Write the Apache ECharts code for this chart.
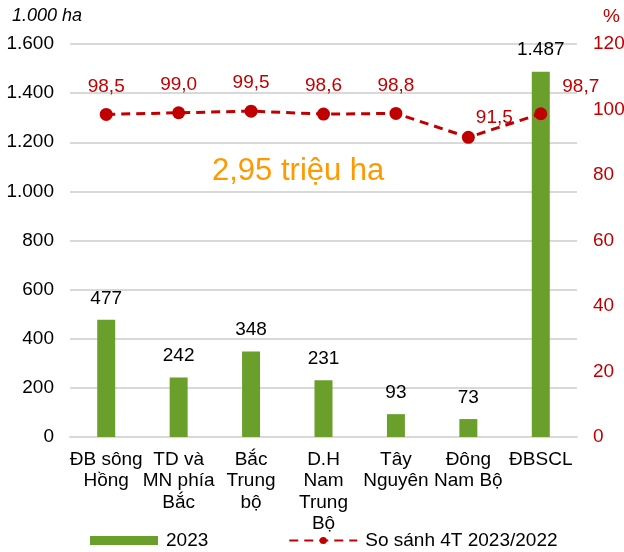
<!DOCTYPE html>
<html><head><meta charset="utf-8">
<script src="https://cdn.jsdelivr.net/npm/echarts@6/dist/echarts.min.js"></script>
<style>html,body{margin:0;padding:0;background:#fff}#c{width:624px;height:552px}</style>
</head><body><div id="c"></div>
<script>
const categories = ['ĐB sông\nHồng','TD và\nMN phía\nBắc','Bắc\nTrung\nbộ','D.H\nNam\nTrung\nBộ','Tây\nNguyên','Đông\nNam Bộ','ĐBSCL'];
const area2023 = [477, 242, 348, 231, 93, 73, 1487];
const ratio = [98.5, 99.0, 99.5, 98.6, 98.8, 91.5, 98.7];
const leftTicks = {min:0, max:1600, interval:200};
const rightTicks = {min:0, max:120, interval:20};
const fmtThousands = v => String(v).replace(/\B(?=(\d{3})+(?!\d))/g, '.');
const fmtComma = v => v.toFixed(1).replace('.', ',');
const font = 'Liberation Sans, Arial, sans-serif';
const chart = echarts.init(document.getElementById('c'), null, {renderer:'canvas'});
chart.setOption({
  animation:false,
  textStyle:{fontFamily:font},
  grid:{left:70, right:47, top:44, bottom:115, containLabel:false, outerBoundsMode:'none'},
  graphic:[
    {type:'text', left:12, top:7, style:{text:'1.000 ha', font:'italic 18px '+font, fill:'#000'}},
    {type:'text', right:4, top:7, style:{text:'%', font:'19px '+font, fill:'#C00000'}},
    {type:'text', left:212, top:156, style:{text:'2,95 triệu ha', font:'31px '+font, fill:'#FF9900'}}
  ],
  legend:{
    left:90, top:531, itemGap:80, itemWidth:68, itemHeight:9, padding:0,
    textStyle:{fontSize:19, color:'#000', fontFamily:font, padding:[0,0,0,3]},
    data:[{name:'2023', icon:'rect'}, {name:'So sánh 4T 2023/2022'}]
  },
  xAxis:{
    type:'category', data:categories,
    axisLine:{lineStyle:{color:'#d9d9d9', width:2}}, axisTick:{show:false},
    axisLabel:{color:'#000', fontSize:19, lineHeight:21.5, interval:0, margin:12, fontFamily:font}
  },
  yAxis:[
    {type:'value', min:leftTicks.min, max:leftTicks.max, interval:leftTicks.interval,
     axisLabel:{color:'#000', fontSize:19, margin:16, formatter:fmtThousands, fontFamily:font},
     splitLine:{lineStyle:{color:'#d9d9d9', width:2}}, axisLine:{show:false}, axisTick:{show:false}},
    {type:'value', min:rightTicks.min, max:rightTicks.max, interval:rightTicks.interval,
     axisLabel:{color:'#C00000', fontSize:19, margin:16, fontFamily:font},
     splitLine:{show:false}, axisLine:{show:false}, axisTick:{show:false}}
  ],
  series:[
    {name:'2023', type:'bar', data:area2023, barWidth:18, itemStyle:{color:'#6B9F2C'},
     label:{show:true, position:'top', distance:12, color:'#000', fontSize:19, formatter:p=>fmtThousands(p.value), fontFamily:font}},
    {name:'So sánh 4T 2023/2022', type:'line', yAxisIndex:1,
     data:ratio.map((v,i)=>{
       const o={value:v};
       if(i===5) o.label={offset:[26,8]};
       if(i===6) o.label={offset:[40,1]};
       return o;
     }),
     symbol:'circle', symbolSize:13, itemStyle:{color:'#C00000'},
     lineStyle:{color:'#C00000', width:3, type:[9,6]},
     label:{show:true, position:'top', distance:12, color:'#C00000', fontSize:19, formatter:p=>fmtComma(p.value), fontFamily:font}}
  ]
});
</script></body></html>
